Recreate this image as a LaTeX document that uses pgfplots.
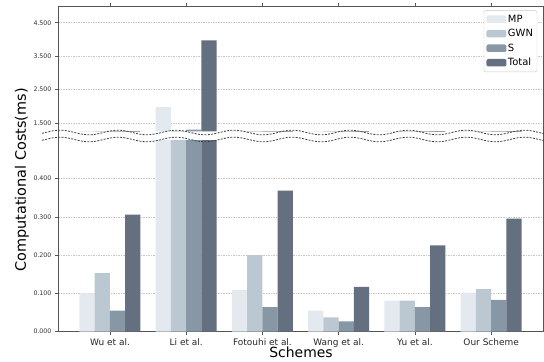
\documentclass[border=0pt]{standalone}
\usepackage{fontspec}
\setmainfont{DejaVu Sans}
\usepackage{pgfplots}
\pgfplotsset{compat=1.18}
\definecolor{cMP}{HTML}{E4E9EF}
\definecolor{cGWN}{HTML}{BCC8D1}
\definecolor{cS}{HTML}{8797A6}
\definecolor{cT}{HTML}{646F80}
\definecolor{spine}{HTML}{555555}
\definecolor{gridc}{HTML}{C8C8C8}

\pgfplotstableread{
x MP GWN S Total
0 0.100 0.153 0.055 0.306
1 1.970 0.700 1.300 3.970
2 0.109 0.200 0.0645 0.369
3 0.055 0.0375 0.027 0.117
4 0.081 0.081 0.0645 0.226
5 0.102 0.1115 0.083 0.2955
}\datatab

\pgfplotsset{
 common/.style={
  scale only axis, width=485bp,
  xmin=-0.682, xmax=5.68,
  axis line style={draw=spine, line width=0.8bp},
  tick style={draw=spine, line width=0.6bp},
  major tick length=3bp,
  tick align=outside,
  ymajorgrids,
  grid style={draw=gridc, dash pattern=on 1.5bp off 1bp, line width=0.5bp},
  /pgf/number format/assume math mode=true,
  yticklabel style={font=\fontsize{6.3}{7}\selectfont, text=black!80,
    /pgf/number format/fixed, /pgf/number format/fixed zerofill,
    /pgf/number format/precision=3},
  ybar, bar width=0.2,
 }
}

\begin{document}
\begin{tikzpicture}
\path[use as bounding box] (-58bp,-30.3bp) rectangle (486bp,331.7bp);

% bottom axis
\begin{axis}[common,
  at={(0,0)}, anchor=south west,
  height=191.25bp,
  ymin=0, ymax=0.5,
  axis x line*=bottom, axis y line*=box,
  ytick pos=left,
  ytick={0,0.1,0.2,0.3,0.4},
  xtick={0,1,2,3,4,5},
  xticklabels={Wu et al., Li et al., Fotouhi et al., Wang et al., Yu et al., Our Scheme},
  xticklabel style={font=\fontsize{9}{10}\selectfont, text=black!85},
]
\addplot[fill=cMP, draw=none, bar shift=-0.3] table[x=x, y=MP] {\datatab};
\addplot[fill=cGWN, draw=none, bar shift=-0.1] table[x=x, y=GWN] {\datatab};
\addplot[fill=cS, draw=none, bar shift=0.1] table[x=x, y=S] {\datatab};
\addplot[fill=cT, draw=none, bar shift=0.3] table[x=x, y=Total] {\datatab};
\end{axis}

% top axis
\begin{axis}[common,
  at={(0,200.4bp)}, anchor=south west,
  height=125.25bp,
  ymin=1.25, ymax=5.0,
  axis x line*=top, axis y line*=box,
  ytick pos=left,
  ytick={1.5,2.5,3.5,4.5},
  xtick=\empty,
  clip mode=individual,
  legend cell align=left,
  legend image code/.code={\fill[#1] (0bp,-3.5bp) rectangle (20bp,4bp);},
  legend style={at={(rel axis cs:0.988,0.965)}, anchor=north east,
    draw=gridc, rounded corners=2bp, fill=white,
    font=\fontsize{10}{11}\selectfont, inner sep=2.5bp, row sep=1.8bp,
    nodes={inner sep=1.5bp, text height=7.5bp, text depth=2.2bp},
    /tikz/every even column/.append style={column sep=6.5bp}},
]
\addplot[fill=cMP, draw=none, bar shift=-0.3] table[x=x, y=MP] {\datatab};
\addplot[fill=cGWN, draw=none, bar shift=-0.1] table[x=x, y=GWN] {\datatab};
\addplot[fill=cS, draw=none, bar shift=0.1] table[x=x, y=S] {\datatab};
\addplot[fill=cT, draw=none, bar shift=0.3] table[x=x, y=Total] {\datatab};
\legend{MP, GWN, S, Total}
\pgfplotsinvokeforeach{0,1,2,3,4,5}{
  \draw[spine, line width=0.6bp] (axis cs:#1,5) -- ([yshift=3bp]axis cs:#1,5);
}
\end{axis}

% spines across the break
\draw[spine, line width=0.8bp] (0,191.25bp) -- (0,200.4bp);
\draw[spine, line width=0.8bp] (485bp,191.25bp) -- (485bp,200.4bp);

% wavy break lines
\begin{scope}[x=1bp, y=1bp]
\draw[black!75, dash pattern=on 2bp off 1.3bp, line width=0.8bp]
  plot[domain=-16:486, samples=160, smooth] (\x, {199.2 + 2.3*sin(\x*6.2+78)});
\draw[black!75, dash pattern=on 2bp off 1.3bp, line width=0.8bp]
  plot[domain=-16:486, samples=160, smooth] (\x, {192.2 + 2.3*sin(\x*6.2+78)});
\end{scope}

% axis labels
\node[font=\fontsize{14}{16}\selectfont] at (243bp,-21bp) {Schemes};
\node[font=\fontsize{14.5}{16}\selectfont, rotate=90] at (-36bp,151.7bp) {Computational Costs(ms)};
\end{tikzpicture}
\end{document}
